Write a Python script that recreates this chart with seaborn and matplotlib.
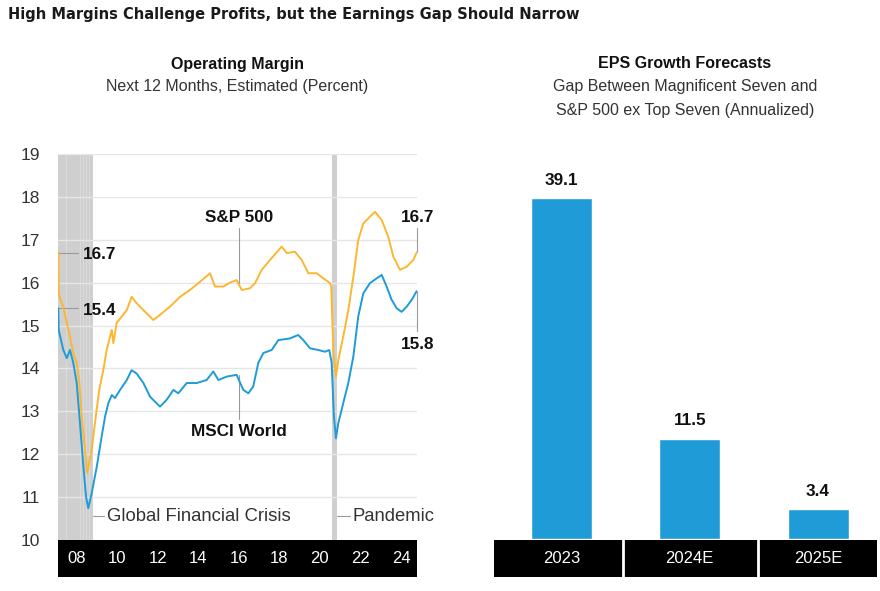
import matplotlib
matplotlib.use('Agg')
import matplotlib.pyplot as plt
import seaborn as sns
import pandas as pd

# Operating margin, next 12 months (percent); time in decimal years
sp500_t = [2007.09, 2007.11, 2007.20, 2007.34, 2007.51, 2007.67, 2007.83, 2008.00, 2008.13, 2008.25,
           2008.41, 2008.52, 2008.74, 2008.90, 2009.11, 2009.31, 2009.48, 2009.73, 2009.81, 2009.97,
           2010.47, 2010.71, 2010.96, 2011.29, 2011.78, 2012.11, 2012.60, 2013.10, 2013.59, 2014.08,
           2014.58, 2014.82, 2015.23, 2015.56, 2015.89, 2016.14, 2016.55, 2016.80, 2017.13, 2017.54,
           2018.11, 2018.36, 2018.77, 2019.10, 2019.43, 2019.84, 2020.17, 2020.50, 2020.56, 2020.66,
           2020.79, 2020.91, 2021.15, 2021.40, 2021.65, 2021.89, 2022.14, 2022.47, 2022.72, 2023.05,
           2023.37, 2023.62, 2023.95, 2024.28, 2024.61, 2024.77]
sp500_v = [16.70, 15.75, 15.60, 15.44, 15.06, 14.74, 14.36, 14.13, 13.66, 12.88,
           12.10, 11.56, 12.10, 12.73, 13.50, 13.96, 14.43, 14.90, 14.59, 15.06,
           15.36, 15.67, 15.52, 15.36, 15.13, 15.25, 15.44, 15.67, 15.83, 16.02,
           16.22, 15.91, 15.91, 16.00, 16.06, 15.83, 15.87, 15.99, 16.30, 16.53,
           16.84, 16.69, 16.72, 16.53, 16.22, 16.22, 16.10, 15.99, 15.90, 14.43,
           13.81, 14.20, 14.74, 15.36, 16.14, 16.99, 17.38, 17.54, 17.65, 17.46,
           17.07, 16.61, 16.30, 16.37, 16.53, 16.70]

msci_t = [2007.09, 2007.11, 2007.34, 2007.51, 2007.67, 2007.83, 2008.00, 2008.16, 2008.33, 2008.46,
          2008.57, 2008.74, 2008.99, 2009.23, 2009.40, 2009.56, 2009.73, 2009.89, 2010.14, 2010.47,
          2010.71, 2010.96, 2011.29, 2011.62, 2012.11, 2012.44, 2012.77, 2013.01, 2013.43, 2013.92,
          2014.41, 2014.74, 2014.99, 2015.40, 2015.89, 2016.22, 2016.47, 2016.71, 2016.96, 2017.21,
          2017.62, 2017.95, 2018.52, 2018.93, 2019.18, 2019.51, 2019.92, 2020.25, 2020.46, 2020.58,
          2020.69, 2020.79, 2020.91, 2021.15, 2021.40, 2021.65, 2021.89, 2022.14, 2022.47, 2022.80,
          2023.05, 2023.29, 2023.54, 2023.79, 2024.03, 2024.28, 2024.53, 2024.77]
msci_v = [15.40, 14.90, 14.43, 14.24, 14.43, 14.13, 13.66, 12.73, 11.71, 11.01,
          10.74, 11.09, 11.71, 12.41, 12.88, 13.19, 13.38, 13.31, 13.50, 13.73,
          13.96, 13.88, 13.66, 13.34, 13.11, 13.27, 13.50, 13.42, 13.66, 13.66,
          13.73, 13.93, 13.73, 13.81, 13.85, 13.50, 13.42, 13.58, 14.13, 14.36,
          14.43, 14.66, 14.70, 14.78, 14.66, 14.47, 14.43, 14.39, 14.43, 14.13,
          12.88, 12.37, 12.73, 13.19, 13.66, 14.28, 15.21, 15.75, 15.99, 16.10,
          16.18, 15.91, 15.60, 15.40, 15.32, 15.44, 15.60, 15.80]

year_ticks = [2008, 2010, 2012, 2014, 2016, 2018, 2020, 2022, 2024]
year_labels = ['08', '10', '12', '14', '16', '18', '20', '22', '24']
gfc_span = (2007.05, 2008.80)
covid_span = (2020.58, 2020.83)

# EPS growth gap, Magnificent Seven vs S&P 500 ex top seven
eps_years = ['2023', '2024E', '2025E']
eps_gap = [39.1, 11.5, 3.4]

YELLOW = '#FBB731'
BLUE = '#1F9BD7'
SHADE = '#cfcfcf'
LEADER = '#9a9a9a'

sns.set_theme(style='white')
plt.rcParams['font.family'] = ['Liberation Sans', 'DejaVu Sans']

W, H = 880, 591
fig = plt.figure(figsize=(8.8, 5.91), dpi=100)


def box(x0, y0, x1, y1):
    # pixel box -> figure fraction
    return [x0 / W, 1 - y1 / H, (x1 - x0) / W, (y1 - y0) / H]


ax = fig.add_axes(box(58, 154, 417, 540))
axb = fig.add_axes(box(58, 540, 417, 577))
ax2 = fig.add_axes(box(494, 154, 877, 539))
axb2 = fig.add_axes(box(494, 540, 877, 577))

# headings
fig.text(8 / W, 1 - 15 / H, 'High Margins Challenge Profits, but the Earnings Gap Should Narrow',
         fontsize=11.7, fontweight='bold', family='DejaVu Sans', fontstretch='condensed',
         color='#1a1a1a', va='center', ha='left')
fig.text(237 / W, 1 - 64 / H, 'Operating Margin', fontsize=11.5, fontweight='bold',
         ha='center', va='center', color='#111')
fig.text(237 / W, 1 - 87 / H, 'Next 12 Months, Estimated (Percent)', fontsize=11.5,
         ha='center', va='center', color='#333')
fig.text(685 / W, 1 - 64 / H, 'EPS Growth Forecasts', fontsize=11.5, fontweight='bold',
         ha='center', va='center', color='#111')
fig.text(685 / W, 1 - 87 / H, 'Gap Between Magnificent Seven and', fontsize=11.5,
         ha='center', va='center', color='#333')
fig.text(685 / W, 1 - 111 / H, 'S&P 500 ex Top Seven (Annualized)', fontsize=11.5,
         ha='center', va='center', color='#333')

# left: operating margin lines
ax.axvspan(*gfc_span, color=SHADE, lw=0, zorder=0)
for x in [2007.45, 2008.18, 2008.33, 2008.48, 2008.62]:
    ax.axvline(x, color='#dadada', lw=0.8, zorder=0.2)
ax.axvspan(*covid_span, color=SHADE, lw=0, zorder=0)
for v in range(11, 20):
    ax.axhline(v, color='#e6e6e6', lw=1, zorder=0.5)

sp = pd.DataFrame({'t': sp500_t, 'v': sp500_v})
ms = pd.DataFrame({'t': msci_t, 'v': msci_v})
sns.lineplot(data=sp, x='t', y='v', color=YELLOW, lw=1.4, estimator=None, ax=ax, zorder=3)
sns.lineplot(data=ms, x='t', y='v', color=BLUE, lw=1.4, estimator=None, ax=ax, zorder=3)

ax.set_xlim(2007.077, 2024.79)
ax.set_ylim(10, 19)
ax.set_yticks(range(10, 20))
ax.set_xticks([])
ax.set_xlabel('')
ax.set_ylabel('')
ax.tick_params(axis='y', length=0, pad=13, labelsize=12.5, labelcolor='#333')
sns.despine(ax=ax, left=True, bottom=True)

bold = dict(fontsize=12.3, fontweight='bold', color='#111', va='center')
# start values
ax.plot([2007.08, 2008.06], [16.7, 16.7], color=LEADER, lw=0.8, zorder=2)
ax.text(2008.31, 16.66, '16.7', ha='left', **bold)
ax.plot([2007.08, 2008.06], [15.4, 15.4], color=LEADER, lw=0.8, zorder=2)
ax.text(2008.31, 15.36, '15.4', ha='left', **bold)
# series names
ax.plot([2016.02, 2016.02], [17.28, 16.0], color=LEADER, lw=0.8, zorder=2)
ax.text(2016.0, 17.51, 'S&P 500', ha='center', **bold)
ax.plot([2016.02, 2016.02], [13.85, 12.82], color=LEADER, lw=0.8, zorder=2)
ax.text(2016.0, 12.54, 'MSCI World', ha='center', **bold)
# end values
ax.plot([2024.77, 2024.77], [17.27, 16.72], color=LEADER, lw=0.8, zorder=2, clip_on=False)
ax.text(2024.81, 17.53, '16.7', ha='center', **bold)
ax.plot([2024.77, 2024.77], [15.8, 14.87], color=LEADER, lw=0.8, zorder=2, clip_on=False)
ax.text(2024.81, 14.55, '15.8', ha='center', **bold)
# shaded periods
ax.plot([2008.82, 2009.35], [10.55, 10.55], color=LEADER, lw=0.8, zorder=2)
ax.text(2009.49, 10.55, 'Global Financial Crisis', ha='left', va='center', fontsize=13.3, color='#333')
ax.plot([2020.85, 2021.48], [10.55, 10.55], color=LEADER, lw=0.8, zorder=2)
ax.text(2021.63, 10.55, 'Pandemic', ha='left', va='center', fontsize=13.3, color='#333')

# left band with year labels
axb.set_facecolor('black')
axb.set_xlim(ax.get_xlim())
axb.set_ylim(0, 1)
for t, lab in zip(year_ticks, year_labels):
    axb.text(t, 0.5, lab, color='white', ha='center', va='center', fontsize=12)
axb.set_xticks([])
axb.set_yticks([])
for s in axb.spines.values():
    s.set_visible(False)

# right: EPS gap bars
eps = pd.DataFrame({'year': eps_years, 'gap': eps_gap})
sns.barplot(data=eps, x='year', y='gap', color=BLUE, saturation=1, width=0.476, ax=ax2)
ax2.set_xlim(-0.527, 2.46)
ax2.set_ylim(0, 44.15)
for i, v in enumerate(eps_gap):
    ax2.text(i, v + 2.06, f'{v:.1f}', ha='center', **bold)
ax2.set_xticks([])
ax2.set_yticks([])
ax2.set_xlabel('')
ax2.set_ylabel('')
sns.despine(ax=ax2, left=True, bottom=True)

axb2.set_facecolor('black')
axb2.set_xlim(ax2.get_xlim())
axb2.set_ylim(0, 1)
for sep in [0.482, 1.535]:
    axb2.axvline(sep, color='white', lw=2)
for i, lab in enumerate(eps_years):
    axb2.text(i, 0.5, lab, color='white', ha='center', va='center', fontsize=12)
axb2.set_xticks([])
axb2.set_yticks([])
for s in axb2.spines.values():
    s.set_visible(False)

fig.savefig('out.png', dpi=100, facecolor='white')
